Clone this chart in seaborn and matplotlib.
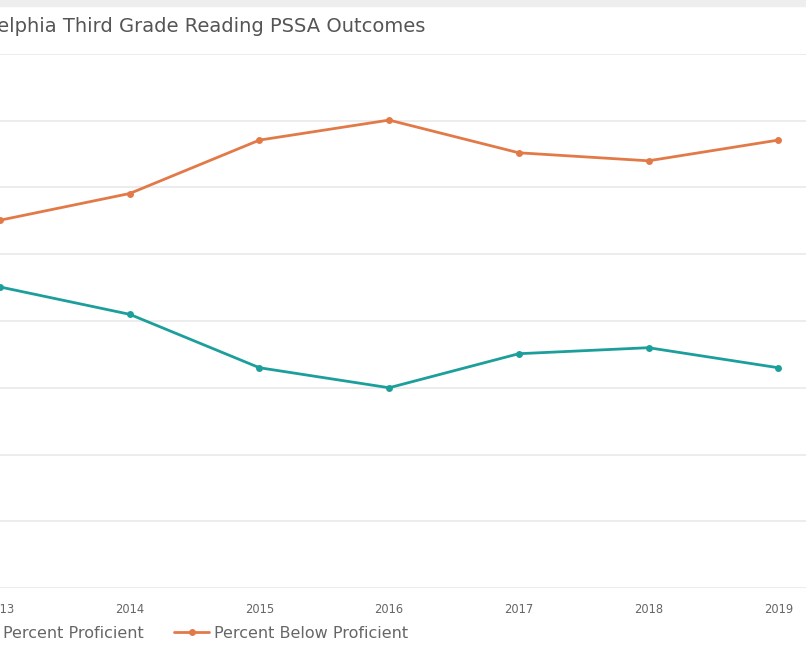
import numpy as np
import pandas as pd
import matplotlib
matplotlib.use("Agg")
import matplotlib.pyplot as plt
import seaborn as sns

# values (percent of students)
years = [2013, 2014, 2015, 2016, 2017, 2018, 2019]
proficient = [45.1, 41.0, 33.0, 30.0, 35.1, 36.0, 33.0]
below_proficient = [55.1, 59.1, 67.1, 70.1, 65.2, 64.0, 67.1]
series_names = ["Percent Proficient", "Percent Below Proficient"]
series_colors = ["#1c9f9b", "#e27a48"]
title = "Philadelphia Third Grade Reading PSSA Outcomes"

df = pd.DataFrame({
    "year": years * 2,
    "value": proficient + below_proficient,
    "series": [series_names[0]] * len(years) + [series_names[1]] * len(years),
})

sns.set_style("whitegrid")
plt.rcParams["font.family"] = ["DejaVu Sans"]

fig = plt.figure(figsize=(8.06, 6.51), dpi=100)
fig.patch.set_facecolor("white")

# axes stretch past the left edge, like the cropped screenshot
ax = fig.add_axes([0.0, 63 / 651, 1.0, (588 - 54) / 651])
sns.lineplot(data=df, x="year", y="value", hue="series", palette=series_colors,
             marker="o", markersize=5, markeredgewidth=0, linewidth=2,
             ax=ax, legend=False)

ax.set_xlim(2013, 2013 + 806 / 129.7)
ax.set_ylim(0, 80)
ax.set_yticks(np.arange(0, 81, 10))
ax.set_xticks(years)
ax.set_xticklabels([str(y) for y in years], fontsize=8.3, color="#666666")
ax.tick_params(axis="x", pad=11, length=0)
ax.tick_params(axis="y", left=False, labelleft=False)
ax.grid(axis="x", visible=False)
ax.grid(axis="y", color="#e9e9e9", linewidth=1.2)
for s in ax.spines.values():
    s.set_visible(False)
ax.set_xlabel("")
ax.set_ylabel("")

# grey strip at the very top of the screenshot
fig.patches.append(plt.Rectangle((0, 1 - 6 / 651), 1, 6 / 651, transform=fig.transFigure,
                                 color="#eeeeee", zorder=0))

fig.text(425 / 806, 1 - 27 / 651, title, ha="right", va="center",
         fontsize=14.05, color="#555555")

handles = [plt.Line2D([], [], color=c, marker="o", markersize=5, markeredgewidth=0, linewidth=2)
           for c in series_colors]
fig.legend(handles, series_names, loc="center left", bbox_to_anchor=(-45 / 806, 1 - 633 / 651),
           ncol=2, frameon=False, fontsize=11.5, labelcolor="#666666",
           handlelength=2.2, handletextpad=0.3, columnspacing=1.9, borderpad=0)

fig.savefig("out.png", dpi=100)
